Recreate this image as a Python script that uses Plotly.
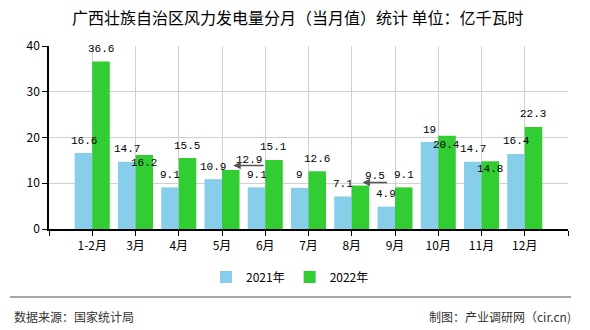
import plotly.graph_objects as go

# ---- data ----
categories = ["1-2月", "3月", "4月", "5月", "6月", "7月", "8月", "9月", "10月", "11月", "12月"]
values_2021 = [16.6, 14.7, 9.1, 10.9, 9.1, 9.0, 7.1, 4.9, 19.0, 14.7, 16.4]
values_2022 = [36.6, 16.2, 15.5, 12.9, 15.1, 12.6, 9.5, 9.1, 20.4, 14.8, 22.3]
labels_2021 = ["16.6", "14.7", "9.1", "10.9", "9.1", "9", "7.1", "4.9", "19", "14.7", "16.4"]
labels_2022 = ["36.6", "16.2", "15.5", "12.9", "15.1", "12.6", "9.5", "9.1", "20.4", "14.8", "22.3"]

# ---- layout constants (pixels) ----
W, H = 590, 330
ML, MR, MT, MB = 49, 22, 46, 101
PW, PH = W - ML - MR, H - MT - MB

def px_x(x):
    return (x - ML) / PW

def px_y(y):
    return (H - MB - y) / PH

BLUE = "#87CEEB"
GREEN = "#32CD32"
xs = list(range(len(categories)))

fig = go.Figure()
fig.add_trace(go.Bar(x=xs, y=values_2021, name="2021年", marker_color=BLUE,
                     marker_line_width=0, hoverinfo="skip"))
fig.add_trace(go.Bar(x=xs, y=values_2022, name="2022年", marker_color=GREEN,
                     marker_line_width=0, hoverinfo="skip"))

# label placement adjustments (style only): (x offset in category units, y shift px)
shift_2022 = {1: (0.2, -8), 8: (0.2, -9), 9: (0.2, -8), 3: (0.63, 10), 6: (0.53, 10)}
arrows_2022 = {3: (0.26, 4.5, 32), 6: (0.25, 3, 26)}

lab_font = dict(family="Liberation Mono, monospace", size=11, color="#000")
annotations = []
for i, (v, t) in enumerate(zip(values_2021, labels_2021)):
    annotations.append(dict(x=i - 0.2, y=v, xref="x", yref="y", text=t, showarrow=False,
                            yanchor="middle", yshift=12.5, font=lab_font))
for i, (v, t) in enumerate(zip(values_2022, labels_2022)):
    dx, dy = shift_2022.get(i, (0.2, 12.5))
    annotations.append(dict(x=i + dx, y=v, xref="x", yref="y", text=t, showarrow=False,
                            yanchor="middle", yshift=dy, font=lab_font))
for i, (dx, dy, ln) in arrows_2022.items():
    annotations.append(dict(x=i + dx, y=values_2022[i], xref="x", yref="y", text="",
                            showarrow=True, arrowhead=2, arrowsize=1, arrowwidth=1.5,
                            arrowcolor="#555", ax=ln, ay=0, yshift=dy, standoff=0))

# title
annotations.append(dict(x=px_x(297.5), y=px_y(17), xref="paper", yref="paper",
                        text="广西壮族自治区风力发电量分月（当月值）统计 单位：亿千瓦时",
                        showarrow=False, xanchor="center", yanchor="middle",
                        font=dict(family="Noto Sans CJK SC", size=16, color="#000")))
# footer
foot_font = dict(family="Noto Sans CJK SC", size=12, color="#333")
annotations.append(dict(x=px_x(12), y=px_y(316), xref="paper", yref="paper",
                        text="数据来源：国家统计局", showarrow=False,
                        xanchor="left", yanchor="middle", font=foot_font))
annotations.append(dict(x=px_x(573), y=px_y(316), xref="paper", yref="paper",
                        text="制图：产业调研网（cir.cn)", showarrow=False,
                        xanchor="right", yanchor="middle", font=foot_font))

shapes = [dict(type="line", xref="paper", yref="paper", x0=px_x(10), x1=px_x(571),
               y0=px_y(297), y1=px_y(297), line=dict(color="#888", width=1.5))]

fig.update_layout(
    width=W, height=H,
    margin=dict(l=ML, r=MR, t=MT, b=MB, pad=0),
    paper_bgcolor="white", plot_bgcolor="white",
    barmode="group", bargap=0.19, bargroupgap=0,
    font=dict(family="Noto Sans CJK SC", size=12, color="#000"),
    showlegend=True,
    legend=dict(orientation="h", x=px_x(290), xanchor="center", y=px_y(277), yanchor="middle",
                font=dict(family="Noto Sans CJK SC", size=12, color="#000"),
                itemwidth=30, traceorder="normal"),
    annotations=annotations, shapes=shapes,
)
fig.update_xaxes(range=[-1, len(categories)], tickvals=list(range(-1, len(categories) + 1)),
                 ticktext=[""] + categories + [""], showgrid=True, gridcolor="#d0d0d0",
                 gridwidth=1, showline=True, linecolor="#000", linewidth=1.5,
                 ticks="outside", ticklen=5, tickcolor="#000", zeroline=False,
                 tickfont=dict(family="Noto Sans CJK SC", size=12, color="#000"))
fig.update_yaxes(range=[0, 40], tickvals=[0, 10, 20, 30, 40], showgrid=True,
                 gridcolor="#d0d0d0", gridwidth=1, showline=True, linecolor="#000",
                 linewidth=1.5, ticks="outside", ticklen=5, tickcolor="#000",
                 zeroline=False, tickfont=dict(family="Noto Sans CJK SC", size=12, color="#000"))

fig.write_html("out.html")
